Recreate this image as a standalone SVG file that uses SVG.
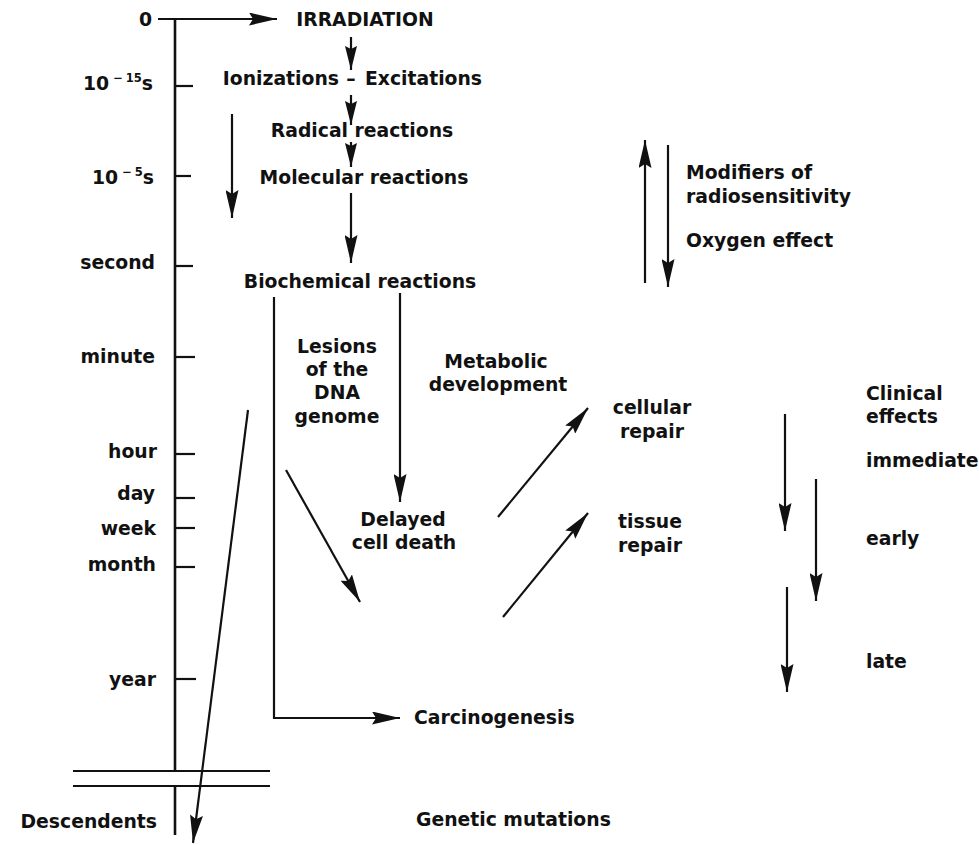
<svg xmlns="http://www.w3.org/2000/svg" width="979" height="845" viewBox="0 0 979 845">
<style>
text{font-family:"DejaVu Sans","Liberation Sans",sans-serif;font-weight:bold;font-size:18.8px;fill:#111}
.c{text-anchor:middle}
.e{text-anchor:end}
.sup{font-size:11.5px}
.ln{stroke:#111;stroke-width:2.2;fill:none}
.ax{stroke:#111;stroke-width:2.6;fill:none}
.thin{stroke:#111;stroke-width:1.8;fill:none}
</style>
<defs>
<marker id="ah" viewBox="0 0 28 13" markerWidth="28" markerHeight="13" refX="28" refY="6.5" orient="auto" markerUnits="userSpaceOnUse">
<path d="M0,0 L28,6.5 L0,13 L4,6.5 z" fill="#111"/>
</marker>
<marker id="as" viewBox="0 0 24 12" markerWidth="24" markerHeight="12" refX="24" refY="6" orient="auto" markerUnits="userSpaceOnUse">
<path d="M0,0 L24,6 L0,12 L3,6 z" fill="#111"/>
</marker>
</defs>

<g id="connectors">
<line class="ln" x1="158" y1="19" x2="277" y2="19" marker-end="url(#ah)"/>
<line class="ax" x1="175" y1="18" x2="175" y2="771"/>
<line class="ax" x1="175" y1="786" x2="175" y2="835"/>
<g class="ln">
<line x1="175" y1="86" x2="193" y2="86"/>
<line x1="175" y1="176" x2="191" y2="176"/>
<line x1="175" y1="266" x2="193" y2="266"/>
<line x1="175" y1="357" x2="195" y2="357"/>
<line x1="175" y1="454" x2="195" y2="454"/>
<line x1="175" y1="498" x2="195" y2="498"/>
<line x1="175" y1="528" x2="195" y2="528"/>
<line x1="175" y1="567" x2="195" y2="567"/>
<line x1="175" y1="679" x2="196" y2="679"/>
</g>
<line class="thin" x1="73" y1="771" x2="270" y2="771"/>
<line class="thin" x1="73" y1="786" x2="270" y2="786"/>
<line class="ln" x1="351" y1="37" x2="351" y2="70" marker-end="url(#as)"/>
<line class="ln" x1="351" y1="95" x2="351" y2="125" marker-end="url(#as)"/>
<line class="ln" x1="351" y1="142" x2="351" y2="167" marker-end="url(#as)"/>
<line class="ln" x1="351" y1="193" x2="351" y2="263" marker-end="url(#ah)"/>
<line class="ln" x1="232" y1="114" x2="232" y2="218" marker-end="url(#ah)"/>
<polyline class="ln" points="274,297 274,718 400,718" marker-end="url(#ah)"/>
<line class="ln" x1="400" y1="293" x2="400" y2="502" marker-end="url(#ah)"/>
<line class="ln" x1="286" y1="470" x2="360" y2="602" marker-end="url(#ah)"/>
<line class="ln" x1="248" y1="410" x2="193" y2="843" marker-end="url(#ah)"/>
<line class="ln" x1="498" y1="517" x2="588" y2="408" marker-end="url(#ah)"/>
<line class="ln" x1="503" y1="617" x2="588" y2="513" marker-end="url(#ah)"/>
<line class="ln" x1="645" y1="283" x2="645" y2="140" marker-end="url(#ah)"/>
<line class="ln" x1="668" y1="145" x2="668" y2="287" marker-end="url(#ah)"/>
<line class="ln" x1="785" y1="414" x2="785" y2="531" marker-end="url(#ah)"/>
<line class="ln" x1="816" y1="479" x2="816" y2="601" marker-end="url(#ah)"/>
<line class="ln" x1="787" y1="587" x2="787" y2="692" marker-end="url(#ah)"/>
</g>

<g id="timescale">
<text class="e" x="152" y="26">0</text>
<text class="e" x="153" y="90">10<tspan class="sup" dx="4" dy="-8">−</tspan><tspan class="sup" dx="3">15</tspan><tspan dy="8">s</tspan></text>
<text class="e" x="154" y="184">10<tspan class="sup" dx="4" dy="-8">−</tspan><tspan class="sup" dx="3">5</tspan><tspan dy="8">s</tspan></text>
<text class="e" x="155" y="269">second</text>
<text class="e" x="155" y="363">minute</text>
<text class="e" x="157" y="458">hour</text>
<text class="e" x="155" y="500">day</text>
<text class="e" x="156" y="535">week</text>
<text class="e" x="156" y="571">month</text>
<text class="e" x="156" y="686">year</text>
<text class="e" x="157" y="828">Descendents</text>
</g>

<g id="irradiation"><text class="c" x="365" y="26">IRRADIATION</text></g>
<g id="ionizations"><text class="e" x="339" y="85">Ionizations</text><text class="c" x="351" y="85">–</text><text x="365" y="85">Excitations</text></g>
<g id="radical"><text class="c" x="362" y="137">Radical reactions</text></g>
<g id="molecular"><text class="c" x="364" y="184">Molecular reactions</text></g>
<g id="biochemical"><text class="c" x="360" y="288">Biochemical reactions</text></g>
<g id="lesions"><text class="c" x="337" y="353">Lesions</text><text class="c" x="337" y="376">of the</text><text class="c" x="337" y="399">DNA</text><text class="c" x="337" y="423">genome</text></g>
<g id="metabolic"><text class="c" x="496" y="368">Metabolic</text><text class="c" x="498" y="391">development</text></g>
<g id="delayed"><text class="c" x="403" y="526">Delayed</text><text class="c" x="404" y="549">cell death</text></g>
<g id="cellular"><text class="c" x="652" y="414">cellular</text><text class="c" x="652" y="438">repair</text></g>
<g id="tissue"><text class="c" x="650" y="528">tissue</text><text class="c" x="650" y="552">repair</text></g>
<g id="modifiers"><text x="686" y="179">Modifiers of</text><text x="686" y="203">radiosensitivity</text><text x="686" y="247">Oxygen effect</text></g>
<g id="clinical"><text x="866" y="400">Clinical</text><text x="866" y="423">effects</text><text x="866" y="467">immediate</text><text x="866" y="545">early</text><text x="866" y="668">late</text></g>
<g id="carcinogenesis"><text x="414" y="724">Carcinogenesis</text></g>
<g id="genetic"><text x="416" y="826">Genetic mutations</text></g>
</svg>
